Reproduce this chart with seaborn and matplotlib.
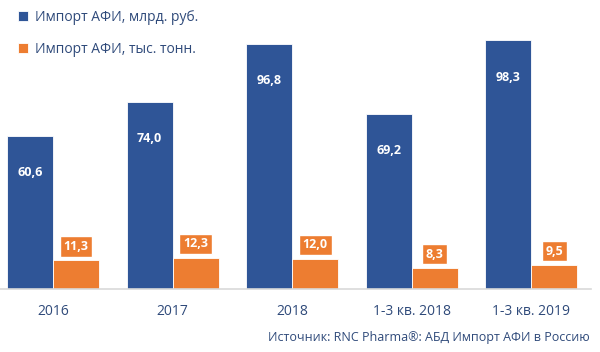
import pandas as pd
import matplotlib
matplotlib.use("Agg")
import matplotlib.pyplot as plt
import seaborn as sns

# Data
periods = ["2016", "2017", "2018", "1-3 кв. 2018", "1-3 кв. 2019"]
rub_bn = [60.6, 74.0, 96.8, 69.2, 98.3]
tonnes_k = [11.3, 12.3, 12.0, 8.3, 9.5]
series_names = ["Импорт АФИ, млрд. руб.", "Импорт АФИ, тыс. тонн."]
source_text = "Источник: RNC Pharma®: АБД Импорт АФИ в Россию"

blue = "#2F5597"
orange = "#ED7D31"
text_blue = "#2F4A7A"

df = pd.DataFrame({
    "Period": periods * 2,
    "Value": rub_bn + tonnes_k,
    "Series": [series_names[0]] * len(periods) + [series_names[1]] * len(periods),
})

sns.set_style("white")
plt.rcParams["font.family"] = ["Open Sans", "DejaVu Sans"]

fig = plt.figure(figsize=(6, 3.52), dpi=100)
ax = fig.add_axes([-0.011, 0.179, 0.996, 0.79])

sns.barplot(data=df, x="Period", y="Value", hue="Series",
            palette=[blue, orange], width=0.77, saturation=1,
            edgecolor="white", linewidth=0.6, ax=ax, legend=True)

ax.set_ylim(0, 110)
ax.set_xlim(-0.5, 4.5)
ax.set_xlabel("")
ax.set_ylabel("")
ax.set_yticks([])
for s in ["top", "right", "left"]:
    ax.spines[s].set_visible(False)
ax.spines["bottom"].set_color("#D9D9D9")
ax.spines["bottom"].set_linewidth(1.2)
ax.tick_params(axis="x", length=0, pad=11, labelsize=10, labelcolor=text_blue)

# Blue bar labels inside the bar near the top
for bar, v in zip(ax.containers[0], rub_bn):
    x = bar.get_x() + bar.get_width() / 2
    ax.text(x, v - 14.5, f"{v:.1f}".replace(".", ","), ha="center", va="center",
            color="white", fontsize=9, fontweight="bold")

# Orange bar labels in boxes above the bar
for bar, v in zip(ax.containers[1], tonnes_k):
    x = bar.get_x() + bar.get_width() / 2
    ax.text(x, v + 5.5, f"{v:.1f}".replace(".", ","), ha="center", va="center",
            color="white", fontsize=9, fontweight="bold",
            bbox=dict(boxstyle="square,pad=0.3", facecolor=orange,
                      edgecolor="white", linewidth=1))

leg = ax.legend(loc="upper left", bbox_to_anchor=(0.02, 1.05), frameon=False,
                handlelength=0.7, handleheight=0.7, handletextpad=0.5,
                labelspacing=1.25, fontsize=10)
for t in leg.get_texts():
    t.set_color(text_blue)

fig.text(0.983, 0.04, source_text, ha="right", va="center",
         fontsize=9, color=text_blue)

fig.savefig("out.png", dpi=100)
